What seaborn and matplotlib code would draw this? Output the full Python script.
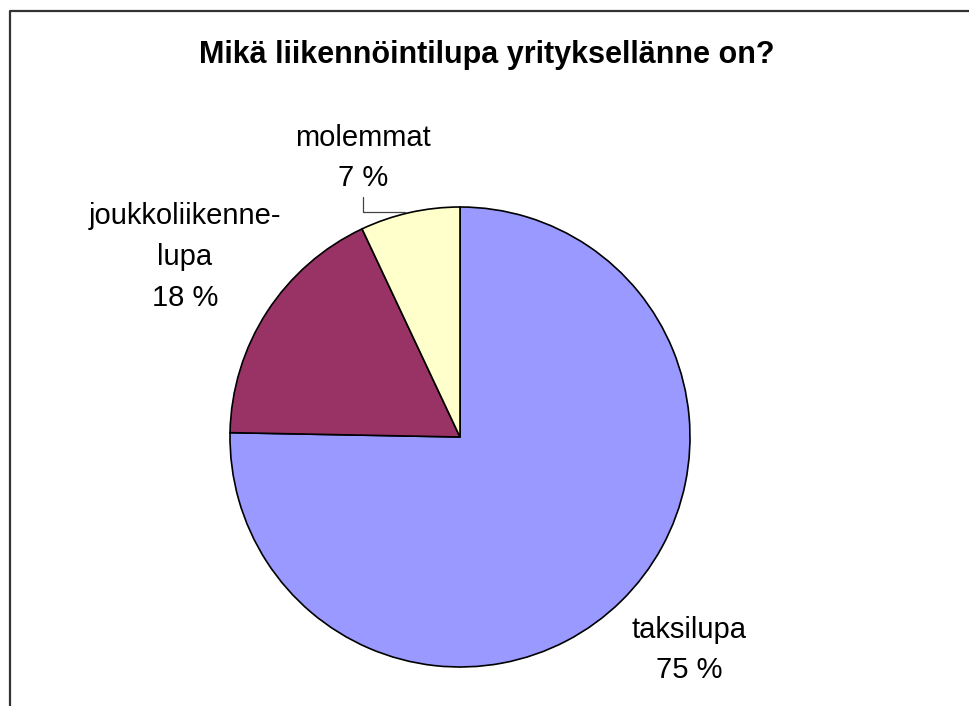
import matplotlib
matplotlib.use("Agg")
import matplotlib.pyplot as plt
import seaborn as sns
from matplotlib.lines import Line2D

# Survey answers: which operating licence the company holds
categories = ["taksilupa", "joukkoliikenne-\nlupa", "molemmat"]
shares = [75.3, 17.7, 7.0]
pct_labels = ["75 %", "18 %", "7 %"]
colors = ["#9999FF", "#993366", "#FFFFCC"]
title = "Mikä liikennöintilupa yrityksellänne on?"

sns.set_theme(style="white")
plt.rcParams["font.family"] = ["Liberation Sans", "DejaVu Sans"]

W, H = 970, 706
fig = plt.figure(figsize=(W / 100, H / 100), dpi=100)
fig.patch.set_facecolor("white")

# pie centre and radius in pixels
cx, cy, r = 460, 437, 230
ax = fig.add_axes([(cx - r) / W, (H - cy - r) / H, 2 * r / W, 2 * r / H])

ax.pie(shares, colors=colors, startangle=90, counterclock=False, radius=1,
       wedgeprops=dict(edgecolor="black", linewidth=1.2))
ax.set_xlim(-1, 1)
ax.set_ylim(-1, 1)
ax.set_aspect("equal")
ax.axis("off")


def px(x, y):
    return (x - cx) / r, (cy - y) / r


label_pos = [(689, 650), (185, 257), (363, 158)]
for name, pct, (lx, ly) in zip(categories, pct_labels, label_pos):
    tx, ty = px(lx, ly)
    ax.text(tx, ty, f"{name}\n{pct}", ha="center", va="center", fontsize=21,
            linespacing=1.58, color="black", clip_on=False)

# leader line for the small slice
pts = [px(363, 197), px(363, 212), px(405, 212)]
ax.plot([p[0] for p in pts], [p[1] for p in pts], color="#444444", lw=0.9,
        clip_on=False)

fig.text((197 + 777) / 2 / W, 1 - 55 / H, title, ha="center", va="center",
         fontsize=22, fontweight="bold", color="black")

# chart area frame
frame = Line2D([10.5 / W, 10.5 / W, 1.02], [-0.02, 1 - 11 / H, 1 - 11 / H],
               transform=fig.transFigure, color="#333333", lw=1.6)
fig.add_artist(frame)

fig.savefig("out.png", dpi=100)
